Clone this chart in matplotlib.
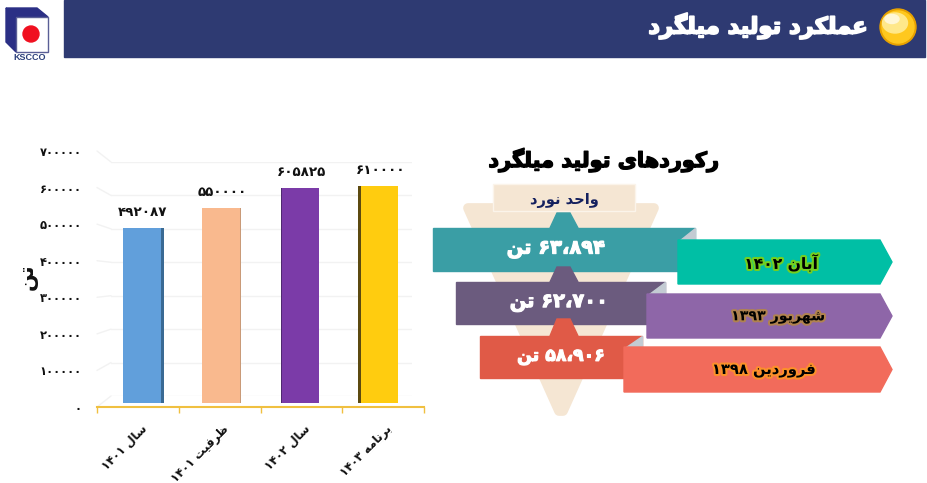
import unicodedata
import matplotlib
matplotlib.use("Agg")
import matplotlib.pyplot as plt
import matplotlib.patheffects as pe
from matplotlib.patches import Circle, Ellipse, Polygon, Rectangle, ConnectionPatch

W, H = 927, 483

# Dados do grafico
categorias = ["سال ۱۴۰۱", "ظرفیت ۱۴۰۱", "سال ۱۴۰۲", "برنامه ۱۴۰۳"]
producao = [492087, 550000, 605825, 610000]
cores_barras = ["#619FDB", "#F9B98E", "#7B3BA8", "#FFCC0F"]
cores_lado = ["#3A6A94", "#C99A78", "#4F2A70", "#5C4A10"]
lado_direito = [True, True, False, False]
grossura_lado = [0.045, 0.01, 0.01, 0.04]
ticks_y = [0, 100000, 200000, 300000, 400000, 500000, 600000, 700000]

titulo = "عملکرد تولید میلگرد"
titulo_recordes = "رکوردهای تولید میلگرد"
unidade = "واحد نورد"
rotulo_y = "تن"

# Recordes
recordes = ["۶۳،۸۹۴ تن", "۶۲،۷۰۰ تن", "۵۸،۹۰۶ تن"]
datas_recorde = ["آبان ۱۴۰۲", "شهریور ۱۳۹۳", "فروردین ۱۳۹۸"]
cores_fita = ["#3A9EA5", "#6B5B7E", "#E05A47"]
cores_seta = ["#00BFA5", "#8E66A8", "#F26B5B"]
cores_brilho = ["#8FD400", "#B98A3A", "#FF9A1E"]

SO_DIREITA = set("اآدذرزژو")
PERSA = str.maketrans("0123456789", "۰۱۲۳۴۵۶۷۸۹")


def forma(ch, nome):
    try:
        return unicodedata.lookup(unicodedata.name(ch) + " " + nome + " FORM")
    except KeyError:
        return ch


def liga(palavra):
    # matplotlib nao faz shaping, entao escolhe as formas de apresentacao
    saida = []
    for i, ch in enumerate(palavra):
        antes = i > 0 and palavra[i - 1] not in SO_DIREITA
        depois = i < len(palavra) - 1 and ch not in SO_DIREITA
        if antes and depois:
            saida.append(forma(ch, "MEDIAL"))
        elif antes:
            saida.append(forma(ch, "FINAL"))
        elif depois:
            saida.append(forma(ch, "INITIAL"))
        else:
            saida.append(forma(ch, "ISOLATED"))
    return "".join(reversed(saida))


def rtl(texto):
    partes = []
    for p in texto.split(" "):
        if p[0] in "۰۱۲۳۴۵۶۷۸۹":
            partes.append(p)
        else:
            partes.append(liga(p))
    return " ".join(reversed(partes))


def caixa(x0, topo, x1, base):
    # posicao em pixels da imagem para fracao da figura
    return [x0 / W, 1 - base / H, (x1 - x0) / W, (base - topo) / H]


plt.rcParams["font.family"] = ["DejaVu Sans"]
plt.rcParams["font.weight"] = "bold"
fig = plt.figure(figsize=(W / 100, H / 100), dpi=100, facecolor="white")

# Camada em pixels para cabecalho e infografico
pix = fig.add_axes([0, 0, 1, 1], zorder=1)
pix.set_xlim(0, W)
pix.set_ylim(H, 0)
pix.axis("off")

# Cabecalho
pix.add_patch(Rectangle((64, 0), 861, 57, color="#2E3A72"))
pix.text(867, 26, rtl(titulo), color="white", fontsize=16.3, ha="right", va="center",
         path_effects=[pe.withStroke(linewidth=1.3, foreground="white")])
pix.add_patch(Circle((898, 27), 18, color="#E8A200"))
pix.add_patch(Circle((898, 27), 16, color="#FFC81E"))
pix.add_patch(Ellipse((895, 23), 25, 20, color="#FFE88A"))
pix.add_patch(Ellipse((892, 19), 14, 9, color="#FFF7D6"))

# Logo
pix.add_patch(Polygon([(6, 8), (37, 8), (48, 17), (16, 17)], color="#2B2F85"))
pix.add_patch(Polygon([(6, 8), (16, 17), (16, 52), (6, 42)], color="#2B2F85"))
pix.add_patch(Rectangle((16, 17), 32, 35, facecolor="white", edgecolor="#5A5F96", linewidth=1))
pix.add_patch(Circle((31, 34), 8, color="#F01020"))
pix.text(30, 58, "KSCCO", color="#2B3F7A", fontsize=6.5, ha="center", va="center",
         family="Liberation Sans")

# Eixo de tras com as linhas de grade
fundo = fig.add_axes(caixa(111, 162, 412, 396), zorder=2)
fundo.patch.set_alpha(0)
fundo.set_ylim(0, 700000)
fundo.set_xticks([])
fundo.set_yticks(ticks_y)
fundo.tick_params(left=False, labelleft=False)
fundo.grid(axis="y", color="#F2F2F2", linewidth=1)
for s in fundo.spines.values():
    s.set_visible(False)

# Eixo da frente com os ticks e rotulos
frente = fig.add_axes(caixa(97, 151, 424, 407), zorder=3)
frente.patch.set_alpha(0)
frente.set_xlim(-0.5, 3.5)
frente.set_ylim(0, 700000)
frente.set_yticks(ticks_y)
frente.set_yticklabels([str(v).translate(PERSA) for v in ticks_y], fontsize=8.3)
frente.tick_params(axis="y", left=False, pad=7.5, labelcolor="#111111")
frente.set_xticks([i - 0.5 for i in range(len(categorias) + 1)])
frente.set_xticklabels([])
frente.tick_params(axis="x", color="#F0C040", length=4, width=1)
frente.set_xticks([i + 0.03 for i in range(len(categorias))], minor=True)
frente.set_xticklabels([rtl(c) for c in categorias], minor=True, rotation=45, ha="right",
                       rotation_mode="anchor", fontsize=8.4, color="#111111")
frente.tick_params(axis="x", which="minor", length=0, pad=11)
for lado in ["top", "left", "right"]:
    frente.spines[lado].set_visible(False)
frente.spines["bottom"].set_color("#F0C040")
frente.spines["bottom"].set_linewidth(1.5)
pix.text(28, 277, rtl(rotulo_y), rotation=90, fontsize=15, ha="center", va="center", color="#111111")

# Diagonais da parede lateral, do tick da frente ate a grade de tras
for v in ticks_y:
    fig.add_artist(ConnectionPatch((0, v), (0, v),
                                   coordsA=frente.get_yaxis_transform(),
                                   coordsB=fundo.get_yaxis_transform(),
                                   color="#F2F2F2", linewidth=1))

# Barras
barras = fig.add_axes(caixa(102.4, 154.5, 419.2, 403), zorder=4)
barras.patch.set_alpha(0)
barras.axis("off")
barras.set_xlim(-0.5, 3.5)
barras.set_ylim(0, 700000)
largura = 0.474
for i, v in enumerate(producao):
    g = grossura_lado[i]
    x_lado = i + largura / 2 if lado_direito[i] else i - largura / 2 - g
    barras.bar(x_lado, v, width=g, align="edge", color=cores_lado[i])
    barras.bar(i, v, width=largura, color=cores_barras[i])
    barras.text(i + 0.01, v + 26000, str(v).translate(PERSA), ha="center", va="bottom",
                fontsize=9.7, color="#111111")

# Funil bege
pix.add_patch(Polygon([(468, 208), (654, 208), (563, 411), (559, 411)], closed=True,
                      facecolor="#F5E6D3", edgecolor="#F5E6D3", linewidth=7, joinstyle="round"))
pix.add_patch(Rectangle((493, 184), 142, 27, facecolor="#F5E6D3", edgecolor="#FBF4EA", linewidth=1))
pix.text(564, 200, rtl(unidade), color="#14205E", fontsize=10.5, ha="center", va="center")
pix.text(604, 160, rtl(titulo_recordes), color="black", fontsize=15, ha="center", va="center",
         path_effects=[pe.withStroke(linewidth=1.0, foreground="black")])

# Fitas dos recordes (esquerda, direita, topo, base) e setas
fitas = [(433, 695, 228, 271), (456, 665, 282, 324), (480, 642, 336, 378)]
setas = [(678, 240, 284), (647, 294, 338), (624, 347, 392)]
conectores = [(213, 228), (267, 282), (319, 336)]
centro_texto = [556, 559, 561]
fonte_texto = [14, 14, 12.5]
centro_data = [781, 778, 764]
fonte_data = [11.2, 10.2, 10.6]

for i in range(3):
    x0, x1, y0, y1 = fitas[i]
    c0, c1 = conectores[i]
    pix.add_patch(Polygon([(550, c1), (557, c0), (570, c0), (578, c1)], color=cores_fita[i], zorder=3))
    pix.add_patch(Rectangle((x0, y0), x1 - x0, y1 - y0, color=cores_fita[i], zorder=3))
    sx, sy0, sy1 = setas[i]
    pix.add_patch(Polygon([(x1, y0), (x1, sy0), (sx + 2, sy0)], color="#C3CBD3", zorder=4))
    pix.add_patch(Polygon([(sx, sy0), (880, sy0), (892, (sy0 + sy1) / 2), (880, sy1), (sx, sy1)],
                          color=cores_seta[i], zorder=5))
    pix.text(centro_texto[i], (y0 + y1) / 2 - 1, rtl(recordes[i]), color="white", fontsize=fonte_texto[i],
             ha="center", va="center", zorder=6,
             path_effects=[pe.withStroke(linewidth=0.8, foreground="white")])
    pix.text(centro_data[i], (sy0 + sy1) / 2 + 1, rtl(datas_recorde[i]), color="black", fontsize=fonte_data[i],
             ha="center", va="center", zorder=6,
             path_effects=[pe.withStroke(linewidth=3, foreground=cores_brilho[i], alpha=0.8)])

fig.savefig("out.png", dpi=100)
